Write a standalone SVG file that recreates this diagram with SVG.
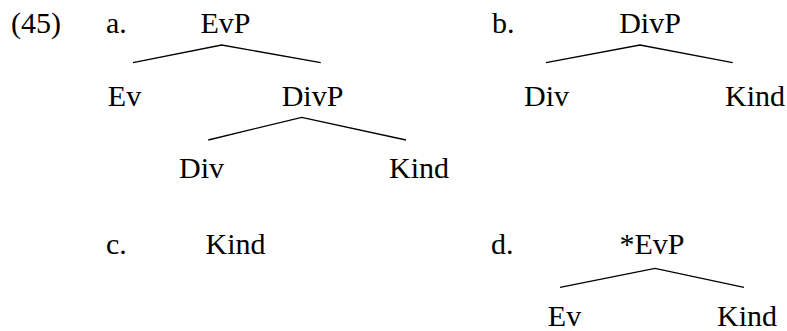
<svg xmlns="http://www.w3.org/2000/svg" width="787" height="331" viewBox="0 0 787 331">
  <style>
    text { font-family: "Liberation Serif", "Times New Roman", serif; font-size: 30px; fill: #000; }
    .node text { text-anchor: middle; }
    .edge { stroke: #000; stroke-width: 1.3; fill: none; }
  </style>
  <rect width="787" height="331" fill="#fff"/>

  <!-- example number and item labels -->
  <g id="labels">
    <text x="11" y="33">(45)</text>
    <text x="106" y="33">a.</text>
    <text x="492" y="33">b.</text>
    <text x="106" y="254">c.</text>
    <text x="491" y="254">d.</text>
  </g>

  <!-- tree a -->
  <g id="a-EvP" class="node"><text x="225.5" y="33">EvP</text></g>
  <g id="a-Ev" class="node"><text x="124.5" y="106">Ev</text></g>
  <g id="a-DivP" class="node"><text x="312.5" y="106">DivP</text></g>
  <g id="a-Div" class="node"><text x="201.5" y="178">Div</text></g>
  <g id="a-Kind" class="node"><text x="419" y="178">Kind</text></g>

  <!-- tree b -->
  <g id="b-DivP" class="node"><text x="650" y="33">DivP</text></g>
  <g id="b-Div" class="node"><text x="546.5" y="106">Div</text></g>
  <g id="b-Kind" class="node"><text x="755" y="106">Kind</text></g>

  <!-- tree c -->
  <g id="c-Kind" class="node"><text x="235.5" y="254">Kind</text></g>

  <!-- tree d -->
  <g id="d-EvP" class="node"><text x="652" y="254">*EvP</text></g>
  <g id="d-Ev" class="node"><text x="564.5" y="326">Ev</text></g>
  <g id="d-Kind" class="node"><text x="747" y="326">Kind</text></g>

  <!-- branches -->
  <g id="connectors">
    <polyline class="edge" points="133,62.7 221.7,45 320.7,62.7"/>
    <polyline class="edge" points="208.3,140 301.7,117.3 406,140"/>
    <polyline class="edge" points="546,62.7 640,45 732.7,62.7"/>
    <polyline class="edge" points="560,287.3 655,268.3 744,287.3"/>
  </g>
</svg>
